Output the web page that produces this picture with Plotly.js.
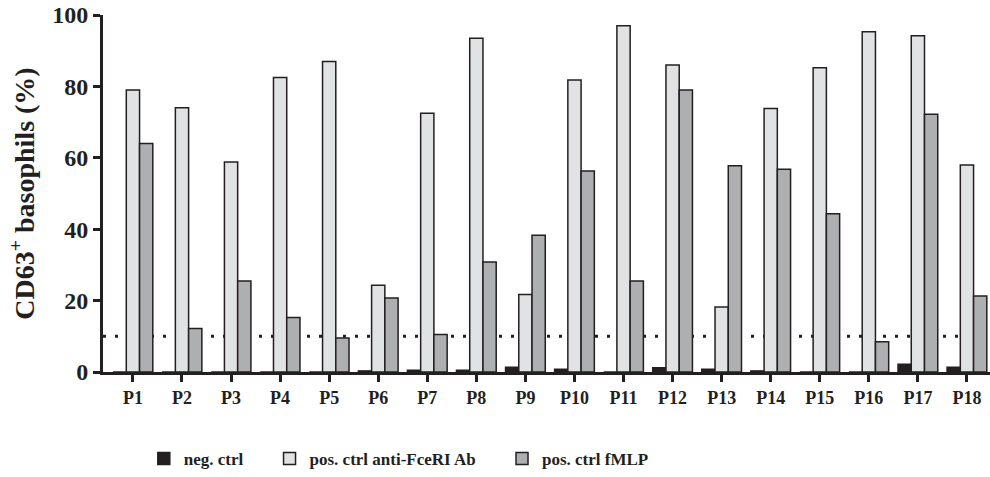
<!DOCTYPE html>
<html><head><meta charset="utf-8">
<script src="https://cdn.plot.ly/plotly-3.0.1.min.js"></script>
<style>body{margin:0;background:#fff}#chart{width:990px;height:477px}</style>
</head><body><div id="chart"></div>
<script>
const categories = ["P1","P2","P3","P4","P5","P6","P7","P8","P9","P10","P11","P12","P13","P14","P15","P16","P17","P18"];
const negCtrl = [0,0,0,0,0,0.3,0.5,0.5,1.3,0.8,0,1.2,0.8,0.3,0,0,2.2,1.3];
const posAntiFce = [79,74,58.8,82.5,87,24.3,72.5,93.5,21.7,81.8,97,86,18.2,73.8,85.2,95.3,94.2,58];
const posFMLP = [64,12.2,25.5,15.3,9.5,20.7,10.5,30.8,38.3,56.3,25.5,79,57.8,56.8,44.3,8.5,72.2,21.3];
const seriesNames = ["neg. ctrl","pos. ctrl anti-FceRI Ab","pos. ctrl fMLP"];
const cutoff = 10;
const yTicks = [0,20,40,60,80,100];

const font = "'Liberation Serif', 'Times New Roman', serif";
const ink = '#231f20';
const outline = {color:ink, width:1.5};
const pad = '&nbsp;&nbsp;&nbsp;&nbsp;&nbsp;';
const traces = [
  {type:'bar', name:'<b>' + seriesNames[0] + '</b>' + pad, x:categories, y:negCtrl, marker:{color:ink, line:outline}},
  {type:'bar', name:'<b>' + seriesNames[1] + '</b>' + pad, x:categories, y:posAntiFce, marker:{color:'#e1e2e3', line:outline}},
  {type:'bar', name:'<b>' + seriesNames[2] + '</b>', x:categories, y:posFMLP, marker:{color:'#aeafb1', line:outline}}
];
const layout = {
  width:990, height:477,
  margin:{l:103, r:0, t:15, b:105},
  paper_bgcolor:'#fff', plot_bgcolor:'#fff',
  barmode:'group', bargap:0.19, bargroupgap:0,
  font:{family:font, color:ink},
  showlegend:true,
  legend:{orientation:'h', x:0.046, xanchor:'left', y:-0.245, yanchor:'middle',
    font:{family:font, size:17, color:ink}, traceorder:'normal'},
  xaxis:{range:[-0.61,17.47], showgrid:false, zeroline:false, showline:true, linewidth:3, linecolor:ink,
    ticks:'outside', ticklen:7, tickwidth:3, tickcolor:ink,
    tickvals:categories, ticktext:categories.map(c => '<b>' + c + '</b>'),
    tickfont:{family:font, size:18, color:ink}},
  yaxis:{range:[0,100], showgrid:false, zeroline:false, showline:true, linewidth:3, linecolor:ink,
    ticks:'outside', ticklen:7, tickwidth:3, tickcolor:ink,
    tickvals:yTicks, ticktext:yTicks.map(v => '<b>' + v + '</b>'),
    tickfont:{family:font, size:24, color:ink},
    title:{text:'<b>CD63<sup>+</sup> basophils (%)</b>', font:{family:font, size:28, color:ink}, standoff:10}},
  shapes:[{type:'line', xref:'paper', x0:0, x1:1, yref:'y', y0:cutoff, y1:cutoff, layer:'below',
    line:{color:ink, width:3, dash:'3px,9px'}}]
};
Plotly.newPlot('chart', traces, layout, {displayModeBar:false, staticPlot:true});
</script></body></html>
